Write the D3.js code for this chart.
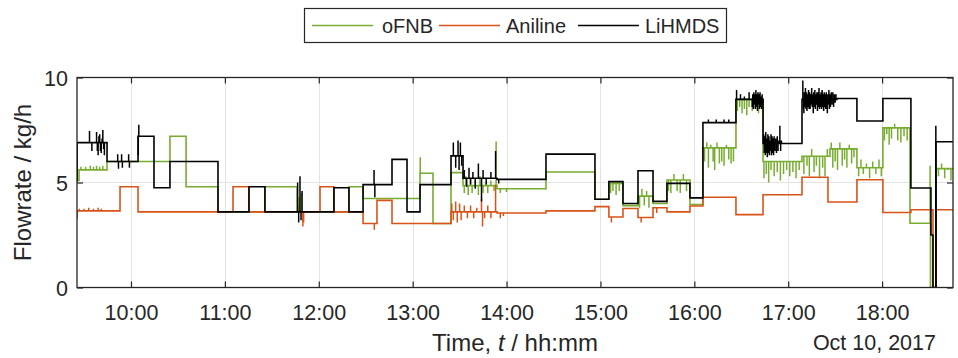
<!DOCTYPE html>
<html><head><meta charset="utf-8">
<script src="https://cdn.jsdelivr.net/npm/d3@7"></script>
<style>body{margin:0;background:#fff}svg{display:block}text{font-family:"Liberation Sans",Arial,Helvetica,sans-serif;fill:#262626}</style>
</head><body><svg id="c" width="958" height="358"></svg>
<script>
// ---------------- DATA ----------------
const day = "2017-10-10";
const xStart = "09:25:30", xEnd = "18:45:18";
const seriesNames = ["oFNB", "Aniline", "LiHMDS"];
const seriesColors = ["#77AC30", "#D95319", "#000000"];
const xTickLabels = ["10:00","11:00","12:00","13:00","14:00","15:00","16:00","17:00","18:00"];
const yTicks = [0, 5, 10];

// step changes [time, kg/h]
const oFNB = [["09:25:30",5.1],["09:26:48",5.6],["09:44:42",6.0],["10:24:54",7.2],["10:35:12",4.8],["10:55:36",3.6],["11:25:36",4.8],["11:46:06",3.6],["12:19:18",4.8],["12:28:18",4.24],["13:04:42",5.44],["13:13:00",3.05],["13:24:30",5.47],["13:32:12",4.85],["13:53:54",4.7],["14:25:12",5.5],["14:56:30",4.2],["15:05:24",4.96],["15:14:24",3.9],["15:24:00",4.35],["15:33:36",4.0],["15:42:30",5.12],["15:57:12",3.95],["16:05:30",6.65],["16:26:36",8.96],["16:43:54",6.0],["17:08:48",6.25],["17:26:42",6.6],["17:43:54",5.7],["18:00:30",7.6],["18:17:48",3.06],["18:30:54",0],["18:34:24",5.66],["18:45:18",5.66]];
const aniline = [["09:25:30",3.65],["09:53:00",4.8],["10:04:30",3.6],["11:05:12",4.8],["11:15:24",3.6],["12:00:48",4.8],["12:09:42",3.6],["12:28:18",3.05],["12:37:12",4.15],["12:46:48",3.05],["13:24:30",3.6],["13:53:54",3.55],["14:25:12",3.65],["14:56:30",3.85],["15:05:24",3.36],["15:14:24",3.76],["15:24:00",3.33],["15:33:36",3.8],["15:42:30",3.6],["15:57:12",3.88],["16:05:30",4.3],["16:26:36",3.47],["16:43:54",4.42],["17:08:48",5.25],["17:25:24",4.07],["17:43:54",5.13],["18:00:30",3.57],["18:18:24",3.7],["18:32:30",0],["18:34:24",3.7],["18:45:18",3.7]];
const lihmds = [["09:25:30",6.9],["09:44:42",6.0],["10:04:30",7.2],["10:14:42",4.75],["10:24:54",6.0],["10:55:36",3.6],["11:15:24",4.8],["11:25:36",3.6],["12:09:42",4.75],["12:19:18",3.6],["12:28:18",4.9],["12:46:48",6.1],["12:56:24",3.6],["13:04:42",4.9],["13:24:30",6.27],["13:32:12",5.2],["13:53:54",5.15],["14:25:12",6.35],["14:56:30",4.2],["15:05:24",5.04],["15:14:24",4.0],["15:24:00",5.56],["15:33:36",4.1],["15:42:30",4.96],["15:57:12",4.27],["16:05:30",7.85],["16:26:36",8.96],["16:43:54",6.86],["17:08:48",8.96],["17:31:06",9.0],["17:43:54",7.93],["18:00:30",9.0],["18:18:24",4.74],["18:31:12",2.5],["18:32:30",0],["18:34:24",6.94],["18:45:18",6.94]];

// short excursions (noise) [time, peak value]
const oFNBSpikes = [["09:28:00",5.75],["09:31:00",5.75],["09:34:00",5.8],["09:36:00",5.75],["09:38:00",5.8],["09:40:00",5.75],["09:42:00",5.8],
 ["11:46:30",3.9],["11:47:30",4.3],["11:48:00",3.7],["11:48:50",4.5],["13:04:50",6.2],
 ["13:33:00",4.5],["13:34:00",5.3],["13:35:30",4.4],["13:37:00",5.2],["13:38:00",4.5],["13:40:00",5.1],["13:42:00",4.4],["13:43:00",5.3],["13:45:00",4.5],["13:47:00",5.0],["13:48:00",4.5],["13:50:00",5.1],["13:52:00",4.6],["13:53:20",6.95],["13:56:00",4.5],["14:00:00",4.55],
 ["15:06:30",4.5],["15:08:00",4.6],["15:10:00",4.4],["15:12:00",4.6],
 ["15:25:00",3.8],["15:26:30",4.7],["15:28:00",3.9],["15:29:30",4.6],["15:31:00",3.8],
 ["15:43:30",4.6],["15:45:00",4.5],["15:47:00",5.4],["15:49:00",4.6],["15:51:00",4.5],["15:53:00",5.4],["15:55:00",4.6],
 ["16:06:30",6.0],["16:08:00",6.9],["16:09:00",5.7],["16:10:30",6.8],["16:12:00",6.0],["16:13:00",5.6],["16:14:30",6.9],["16:16:00",5.9],["16:17:30",6.0],["16:19:00",5.8],["16:20:30",6.8],["16:22:00",6.1],["16:23:30",5.9],["16:25:00",6.0],
 ["16:27:30",8.4],["16:29:00",8.6],["16:30:30",8.3],["16:32:00",8.5],["16:33:30",8.2],["16:35:00",8.6],["16:37:00",8.4],["16:39:00",8.5],["16:41:00",8.3],["16:42:30",8.6],
 ["16:44:30",5.2],["16:46:00",5.4],["16:47:30",5.0],["16:49:00",5.6],["16:51:00",5.3],["16:53:00",5.5],["16:55:00",5.1],["16:57:00",5.4],["16:59:00",5.6],["17:01:00",5.3],["17:03:00",5.5],["17:05:00",5.2],["17:07:00",5.6],
 ["17:10:00",5.4],["17:12:00",5.8],["17:13:30",5.3],["17:15:00",6.6],["17:16:30",5.5],["17:18:00",5.8],["17:20:00",5.2],["17:22:00",5.7],["17:23:30",5.3],["17:25:00",6.6],
 ["17:27:30",6.9],["17:28:30",5.7],["17:30:00",6.0],["17:31:30",5.6],["17:33:00",6.9],["17:34:30",5.8],["17:36:00",6.1],["17:37:30",5.7],["17:39:00",6.8],["17:40:30",5.9],["17:42:00",6.2],
 ["17:45:00",5.3],["17:46:30",6.1],["17:48:00",5.4],["17:50:00",5.9],["17:52:00",5.2],["17:54:00",6.0],["17:56:00",5.4],["17:58:00",6.1],["17:59:30",5.3],
 ["18:01:30",7.0],["18:03:00",7.3],["18:04:30",6.8],["18:06:00",7.1],["18:08:00",7.8],["18:10:00",7.0],["18:12:00",6.9],["18:14:00",7.2],["18:16:00",7.0],
 ["18:30:40",5.8],["18:36:00",5.3],["18:38:00",5.9],["18:40:00",5.2],["18:42:00",5.6],["18:44:00",5.1]];
const anilineSpikes = [["09:25:40",3.3],["09:27:00",3.75],["09:30:00",3.75],["09:33:00",3.8],["09:36:00",3.75],["09:39:00",3.8],["09:41:00",3.75],
 ["11:49:50",2.9],["11:50:20",3.1],["12:35:30",2.75],
 ["13:25:00",4.0],["13:26:00",3.2],["13:27:30",4.1],["13:28:30",3.1],["13:30:00",4.0],["13:31:00",3.2],["13:33:00",3.9],["13:35:00",3.3],["13:37:00",3.9],["13:39:00",3.3],["13:41:00",3.8],["13:44:00",4.2],["13:44:40",2.9],["13:46:00",3.3],["13:48:00",3.9],["13:50:00",3.3],["13:53:00",4.9],["13:56:00",3.3],["13:58:00",3.4],
 ["15:07:00",3.1],["15:26:00",3.1],["15:36:00",3.55]];
const lihmdsSpikes = [["09:25:40",5.05],["09:33:30",7.45],["09:35:00",6.5],["09:38:00",7.4],["09:38:30",6.5],["09:39:00",6.3],["09:39:30",7.2],["09:40:00",7.3],["09:40:30",6.5],["09:41:00",6.4],["09:41:30",7.1],["09:42:00",7.5],["09:42:30",6.6],["09:43:00",6.3],
 ["09:51:30",6.35],["09:52:00",5.65],["09:54:00",6.35],["09:54:30",5.7],["09:58:30",6.35],["09:59:00",5.7],["10:04:40",6.3],["10:05:00",7.75],
 ["11:46:30",5.0],["11:47:10",3.1],["11:48:00",5.3],["11:48:40",3.2],["11:49:20",4.6],["12:35:20",5.6],["12:35:50",4.3],
 ["13:26:00",6.9],["13:27:30",5.7],["13:29:00",7.0],["13:29:40",5.6],["13:30:30",6.9],["13:31:20",5.8],
 ["13:33:00",5.6],["13:34:30",4.8],["13:36:00",5.7],["13:37:00",4.9],["13:38:30",5.5],["13:40:00",4.7],["13:42:00",5.9],["13:44:00",4.1],["13:45:00",5.6],["13:47:00",4.9],["13:50:00",5.5],["13:53:00",6.5],["13:55:00",4.95],
 ["16:09:00",8.0],["16:14:00",8.0],["16:19:00",8.0],["16:22:00",8.0],
 ["16:27:00",9.4],["16:29:30",9.2],["16:32:00",9.1],["16:35:00",9.3],
 ["16:37:00",8.6],["16:37:20",9.2],["16:37:40",8.5],["16:38:00",9.3],["16:38:20",8.7],["16:38:40",9.2],["16:39:00",8.5],["16:39:20",9.4],["16:39:40",8.6],["16:40:00",9.2],["16:40:20",8.4],["16:40:40",9.3],["16:41:00",8.7],["16:41:20",9.2],["16:41:40",8.5],["16:42:00",9.3],["16:42:20",8.6],["16:42:40",9.1],["16:43:00",8.5],["16:43:20",9.2],["16:43:40",8.7],
 ["16:44:20",7.3],["16:44:40",6.4],["16:45:00",7.2],["16:45:20",6.3],["16:45:40",7.4],["16:46:00",6.4],["16:46:20",7.1],["16:46:40",6.2],["16:47:00",7.3],["16:47:20",6.4],["16:47:40",7.2],["16:48:00",6.3],["16:48:20",7.0],["16:48:40",6.5],["16:49:00",7.3],["16:49:20",6.3],["16:49:40",7.2],["16:50:00",6.4],["16:50:20",7.1],["16:50:40",6.3],["16:51:00",7.2],["16:51:30",6.5],["16:52:00",7.1],["16:52:30",6.4],["16:53:00",7.2],["16:53:30",6.5],["16:54:00",7.0],["16:54:40",7.7],["16:55:10",6.5],["16:55:40",7.0],
 ["17:09:20",9.86],["17:09:40",8.5],["17:10:00",8.3],["17:10:20",9.3],["17:10:40",8.6],["17:11:00",9.5],["17:11:20",8.5],["17:11:40",9.3],["17:12:00",8.4],["17:12:20",9.2],["17:12:40",8.6],["17:13:00",9.4],["17:13:20",8.5],["17:13:40",9.3],["17:14:00",8.5],["17:14:20",9.2],["17:14:40",8.7],["17:15:00",9.5],["17:15:20",8.6],["17:15:40",9.2],["17:16:00",8.3],["17:16:20",9.3],["17:16:40",8.6],["17:17:00",9.4],["17:17:20",8.5],["17:17:40",9.2],["17:18:00",8.7],["17:18:20",9.3],["17:18:40",8.4],["17:19:00",9.3],["17:19:20",8.6],["17:19:40",9.5],["17:20:00",8.5],["17:20:20",9.2],["17:20:40",8.6],["17:21:00",9.3],["17:21:20",8.5],["17:21:40",9.4],["17:22:00",8.6],["17:22:20",9.2],["17:22:40",8.4],["17:23:00",9.3],["17:23:20",8.6],["17:23:40",9.2],["17:24:00",8.5],["17:24:20",9.3],["17:24:40",8.6],["17:25:00",8.3],["17:25:20",9.2],["17:25:40",8.7],["17:26:00",9.4],["17:26:20",8.5],["17:26:40",9.2],["17:27:00",8.6],["17:27:30",9.3],["17:28:00",8.7],["17:28:30",9.3],["17:29:00",8.6],["17:29:30",9.2],["17:30:00",8.8],["17:30:30",9.2],
 ["18:34:20",7.7]];

const series = [
  {name: seriesNames[0], color: seriesColors[0], steps: oFNB, spikes: oFNBSpikes},
  {name: seriesNames[1], color: seriesColors[1], steps: aniline, spikes: anilineSpikes},
  {name: seriesNames[2], color: seriesColors[2], steps: lihmds, spikes: lihmdsSpikes}
];

// ---------------- CHART ----------------
const parse = d3.timeParse("%Y-%m-%d %H:%M:%S");
const T = s => parse(day + " " + s);
const L = 77, R = 953, TOP = 77.5, BOT = 287.5;
const x = d3.scaleTime().domain([T(xStart), T(xEnd)]).range([L, R]);
const y = d3.scaleLinear().domain([0, 10]).range([BOT, TOP]);
const axisColor = "#262626";

const svg = d3.select("#c");
svg.append("defs").append("clipPath").attr("id","clip")
  .append("rect").attr("x", L).attr("y", TOP).attr("width", R - L).attr("height", BOT - TOP);

const xTicks = xTickLabels.map(s => T(s + ":00"));
// grid
const grid = svg.append("g").attr("stroke", "#e3e3e3").attr("stroke-width", 1);
grid.selectAll("line.v").data(xTicks).join("line")
  .attr("x1", d => Math.round(x(d)) + 0.5).attr("x2", d => Math.round(x(d)) + 0.5)
  .attr("y1", TOP).attr("y2", BOT);
grid.selectAll("line.h").data(yTicks.filter(v => v > 0 && v < 10)).join("line")
  .attr("x1", L).attr("x2", R).attr("y1", d => y(d)).attr("y2", d => y(d));

// series
const stepLine = d3.line().x(d => x(d[0])).y(d => y(d[1])).curve(d3.curveStepAfter);
const segLine = d3.line().x(d => x(d[0])).y(d => y(d[1]));
const plot = svg.append("g").attr("clip-path", "url(#clip)");
series.forEach(s => {
  const pts = s.steps.map(([t, v]) => [T(t), v]);
  const baseAt = t => { let v = pts[0][1]; for (const p of pts) { if (p[0] <= t) v = p[1]; else break; } return v; };
  const spikeD = s.spikes.map(([t, v]) => { const tt = T(t); return segLine([[tt, baseAt(tt)], [tt, v]]); }).join("");
  plot.append("path").attr("d", spikeD).attr("fill", "none").attr("stroke", s.color).attr("stroke-width", 1.5);
  plot.append("path").attr("d", stepLine(pts)).attr("fill", "none").attr("stroke", s.color).attr("stroke-width", 1.6);
});

// axes
const gx = svg.append("g").attr("transform", `translate(0,${BOT})`)
  .call(d3.axisBottom(x).tickValues(xTicks).tickFormat(d3.timeFormat("%H:%M")).tickSize(-6).tickPadding(17));
const gxt = svg.append("g").attr("transform", `translate(0,${TOP})`)
  .call(d3.axisTop(x).tickValues(xTicks).tickFormat("").tickSize(-6));
const gy = svg.append("g").attr("transform", `translate(${L},0)`)
  .call(d3.axisLeft(y).tickValues(yTicks).tickFormat(d3.format("d")).tickSize(-6).tickPadding(9));
const gyr = svg.append("g").attr("transform", `translate(${R},0)`)
  .call(d3.axisRight(y).tickValues(yTicks).tickFormat("").tickSize(-6));
[gx, gxt, gy, gyr].forEach(g => {
  g.select(".domain").remove();
  g.selectAll(".tick line").attr("stroke", axisColor).attr("stroke-width", 1.2);
  g.selectAll("text").attr("font-size", 21.5).attr("fill", axisColor)
    .style("font-family", '"Liberation Sans", Arial, sans-serif');
});
gx.selectAll(".tick text").attr("dy", null).attr("y", 32.5);
gy.selectAll(".tick text").attr("dy", "0.36em");
svg.append("rect").attr("x", L).attr("y", TOP).attr("width", R - L).attr("height", BOT - TOP)
  .attr("fill", "none").attr("stroke", axisColor).attr("stroke-width", 1.3);

// labels
const xl = svg.append("text").attr("x", (L + R) / 2).attr("y", 351).attr("text-anchor", "middle").attr("font-size", 24);
xl.append("tspan").text("Time, ");
xl.append("tspan").attr("font-style", "italic").text("t");
xl.append("tspan").text(" / hh:mm");
svg.append("text").attr("x", 936).attr("y", 350).attr("text-anchor", "end").attr("font-size", 21.5).text("Oct 10, 2017");
svg.append("text").attr("transform", `translate(31,${(TOP + BOT) / 2}) rotate(-90)`).attr("text-anchor", "middle")
  .attr("font-size", 24).text("Flowrate / kg/h");

// legend
const lg = svg.append("g");
lg.append("rect").attr("x", 304.5).attr("y", 8.5).attr("width", 422).attr("height", 34)
  .attr("fill", "#fff").attr("stroke", axisColor).attr("stroke-width", 1.2);
const legX = [[312, 373, 382], [439, 500, 506], [578, 639, 645]];
series.forEach((s, i) => {
  lg.append("line").attr("x1", legX[i][0]).attr("x2", legX[i][1]).attr("y1", 25.5).attr("y2", 25.5)
    .attr("stroke", s.color).attr("stroke-width", 1.6);
  lg.append("text").attr("x", legX[i][2]).attr("y", 32.5).attr("font-size", 20).text(s.name);
});
</script></body></html>
